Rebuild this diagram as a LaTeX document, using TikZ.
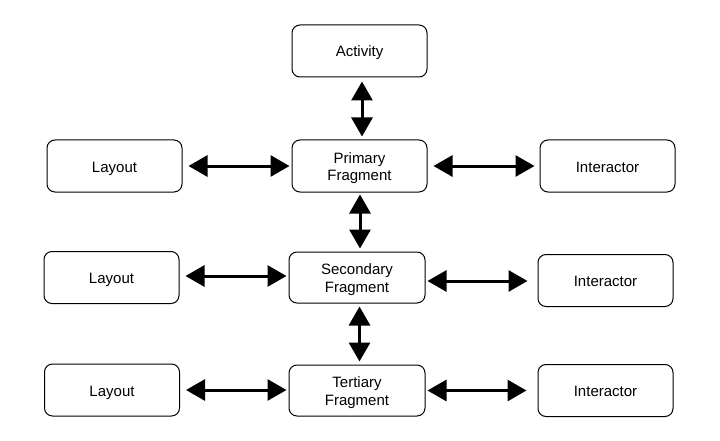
\documentclass[tikz,border=0pt]{standalone}
\usepackage{fontspec}
\setmainfont{Liberation Sans}
\usetikzlibrary{arrows.meta}
\newcommand\boxtext[1]{\raisebox{-2.5pt}[\height][\depth]{\begin{tabular}{@{}c@{}}#1\end{tabular}}}
\begin{document}
\begin{tikzpicture}[x=1pt,y=-1pt,
  box/.style={draw=black,line width=1pt,rounded corners=8pt,minimum width=135pt,minimum height=52pt,align=center,inner sep=0pt,font=\fontsize{15}{17.5}\selectfont},
  dbl/.style={line width=3pt,{Triangle[width=21pt,length=19pt]}-{Triangle[width=21pt,length=19pt]}}]
\useasboundingbox (0,0) rectangle (720,441);
\node[box] (act) at (359.5,51) {\boxtext{Activity}};
\node[box] (pri) at (359.5,166) {\boxtext{Primary\\Fragment}};
\node[box] (lay1) at (114.5,166) {\boxtext{Layout}};
\node[box] (int1) at (607.5,166) {\boxtext{Interactor}};
\node[box,minimum width=136pt,minimum height=51pt] (sec) at (357,277.5) {\boxtext{Secondary\\Fragment}};
\node[box] (lay2) at (111.5,277.5) {\boxtext{Layout}};
\node[box] (int2) at (605.5,280.5) {\boxtext{Interactor}};
\node[box,minimum width=136pt,minimum height=51pt] (ter) at (357,390.5) {\boxtext{Tertiary\\Fragment}};
\node[box] (lay3) at (112,390) {\boxtext{Layout}};
\node[box] (int3) at (605.5,390.5) {\boxtext{Interactor}};
% vertical arrows
\draw[dbl,shorten <=4pt,shorten >=3pt] ([xshift=2.5pt]act.south) -- ([xshift=2.5pt]act.south |- pri.north);
\draw[dbl,shorten <=2pt,shorten >=3pt] ([xshift=0.5pt]pri.south) -- ([xshift=0.5pt]pri.south |- sec.north);
\draw[dbl,shorten <=3pt,shorten >=3pt] ([xshift=2.5pt]sec.south) -- ([xshift=2.5pt]sec.south |- ter.north);
% horizontal arrows
\draw[dbl,shorten <=6pt,shorten >=2pt] (lay1.east) -- (pri.west);
\draw[dbl,shorten <=6pt,shorten >=5pt] (pri.east) -- (int1.west);
\draw[dbl,shorten <=6pt,shorten >=2pt] ([yshift=1.5pt]lay2.east) -- ([yshift=1.5pt]lay2.east -| sec.west);
\draw[dbl,shorten <=2pt,shorten >=10pt] ([yshift=-0.5pt]int2.west -| sec.east) -- ([yshift=-0.5pt]int2.west);
\draw[dbl,shorten <=6pt,shorten >=2pt] (lay3.east) -- (lay3.east -| ter.west);
\draw[dbl,shorten <=2pt,shorten >=11pt] (ter.east) -- (ter.east -| int3.west);
\end{tikzpicture}
\end{document}
